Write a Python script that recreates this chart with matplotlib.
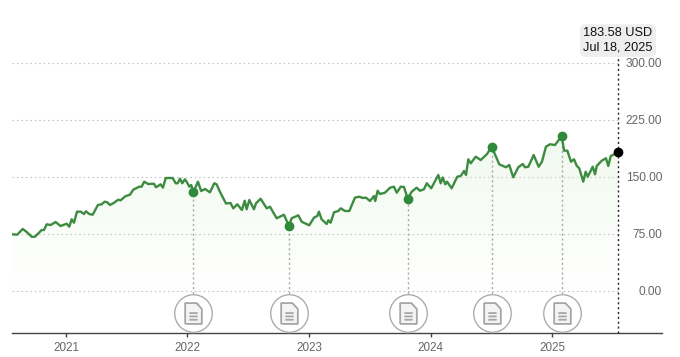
import numpy as np
import matplotlib
matplotlib.use('Agg')
import matplotlib.pyplot as plt
from matplotlib.path import Path

plt.rcParams['font.family'] = ['Liberation Sans', 'DejaVu Sans']

# price trace (fractional year, USD)
years = [2020.556, 2020.599, 2020.644, 2020.677, 2020.718, 2020.745, 2020.800, 2020.819, 2020.841, 2020.874,
         2020.915, 2020.956, 2021.006, 2021.027, 2021.047, 2021.066, 2021.091, 2021.123, 2021.148, 2021.165,
         2021.192, 2021.220, 2021.263, 2021.294, 2021.318, 2021.340, 2021.362, 2021.389, 2021.430, 2021.450,
         2021.488, 2021.527, 2021.554, 2021.603, 2021.623, 2021.644, 2021.677, 2021.724, 2021.741, 2021.779,
         2021.798, 2021.821, 2021.878, 2021.903, 2021.919, 2021.938, 2021.957, 2021.979, 2021.998, 2022.015,
         2022.031, 2022.048, 2022.086, 2022.113, 2022.144, 2022.185, 2022.221, 2022.240, 2022.267, 2022.317,
         2022.354, 2022.377, 2022.410, 2022.448, 2022.471, 2022.487, 2022.509, 2022.547, 2022.564, 2022.602,
         2022.652, 2022.679, 2022.734, 2022.761, 2022.794, 2022.835, 2022.857, 2022.912, 2022.940, 2023.002,
         2023.041, 2023.068, 2023.082, 2023.104, 2023.146, 2023.159, 2023.178, 2023.206, 2023.241, 2023.261,
         2023.296, 2023.332, 2023.378, 2023.414, 2023.442, 2023.469, 2023.502, 2023.535, 2023.545, 2023.565,
         2023.584, 2023.625, 2023.667, 2023.699, 2023.722, 2023.755, 2023.782, 2023.812, 2023.845, 2023.886,
         2023.913, 2023.946, 2023.969, 2024.006, 2024.064, 2024.084, 2024.100, 2024.122, 2024.136, 2024.174,
         2024.220, 2024.248, 2024.276, 2024.292, 2024.311, 2024.331, 2024.372, 2024.413, 2024.465, 2024.503,
         2024.566, 2024.621, 2024.648, 2024.681, 2024.722, 2024.759, 2024.778, 2024.805, 2024.849, 2024.890,
         2024.917, 2024.950, 2024.983, 2025.024, 2025.080, 2025.099, 2025.126, 2025.156, 2025.181, 2025.203,
         2025.224, 2025.257, 2025.277, 2025.294, 2025.335, 2025.354, 2025.368, 2025.409, 2025.444, 2025.463,
         2025.483, 2025.518, 2025.543]
prices = [75.1, 74.6, 82.1, 78.1, 71.9, 71.9, 80.7, 80.7, 88.2, 87.3,
          91.2, 86.0, 89.0, 85.1, 94.8, 90.3, 104.8, 104.8, 101.7, 105.3,
          101.7, 100.8, 113.6, 114.5, 117.9, 117.1, 113.6, 115.8, 120.5, 119.7,
          125.0, 127.1, 133.7, 137.6, 137.6, 144.2, 141.1, 141.5, 136.8, 140.7,
          136.3, 149.0, 149.0, 142.1, 142.1, 148.1, 142.1, 147.3, 142.8, 137.6,
          139.8, 130.2, 144.2, 131.9, 134.6, 130.2, 142.1, 140.7, 131.0, 115.5,
          116.2, 109.2, 114.5, 107.0, 119.2, 107.9, 120.1, 107.9, 115.8, 121.8,
          109.2, 111.3, 96.1, 98.2, 100.8, 86.0, 96.1, 100.0, 91.6, 86.9,
          96.9, 99.1, 104.8, 94.8, 88.6, 93.5, 90.3, 104.0, 105.7, 109.2,
          105.7, 105.7, 123.2, 124.5, 122.8, 123.2, 118.8, 125.4, 118.8, 132.3,
          128.0, 129.7, 136.3, 137.6, 129.7, 137.6, 137.2, 121.8, 131.0, 136.3,
          132.3, 134.2, 142.1, 135.5, 153.0, 142.1, 149.7, 140.7, 144.2, 135.5,
          150.7, 151.6, 158.2, 153.0, 173.6, 168.3, 177.0, 172.6, 180.5, 190.1,
          167.0, 163.1, 166.1, 149.9, 163.1, 167.4, 163.1, 163.8, 179.2, 163.8,
          170.4, 190.1, 193.3, 192.3, 204.2, 184.9, 184.9, 170.4, 173.6, 165.2,
          161.7, 144.2, 157.3, 150.7, 163.8, 153.9, 164.8, 171.7, 174.9, 164.8,
          177.9, 180.5, 183.58]

# filing markers
filing_years = [2022.048, 2022.835, 2023.812, 2024.503, 2025.080]
filing_prices = [130.2, 86.0, 121.8, 190.1, 204.2]

y_ticks = [0, 75, 150, 225, 300]
y_labels = ['0.00', '75.00', '150.00', '225.00', '300.00']
x_ticks = [2021, 2022, 2023, 2024, 2025]
x_labels = ['2021', '2022', '2023', '2024', '2025']

tooltip = '183.58 USD\nJul 18, 2025'

green = '#3d8b40'
grey_text = '#666666'

fig = plt.figure(figsize=(6.8, 3.57), dpi=100)
ax = fig.add_axes([12 / 680, 24 / 357, 650 / 680, 270 / 357])

x_min, x_max = 2020.556, 2025.905
y_min, y_max = -54.5, 300
icon_y = -28.2

# grid stops at the last date, labels sit to the right of it
ax.hlines(y_ticks, x_min, years[-1], color='#c4c4c4', linewidth=0.8, linestyle=(0, (1.5, 2.5)), zorder=1)
for v, label in zip(y_ticks, y_labels):
    ax.text(x_max, v - 1.3, label, ha='right', va='center', fontsize=8.6, color=grey_text)

# gradient under the line
grad = np.ones((256, 1, 4))
grad[:, 0, 0] = 0.90
grad[:, 0, 1] = 0.96
grad[:, 0, 2] = 0.88
grad[:, 0, 3] = np.linspace(0.55, 0.0, 256)
im = ax.imshow(grad, extent=[x_min, years[-1], 0, 205], aspect='auto', origin='upper', zorder=2)
poly = ax.fill_between(years, prices, 0, color='none')
im.set_clip_path(poly.get_paths()[0], transform=ax.transData)

# dotted drops from the filing points to the icons
ax.vlines(filing_years, icon_y, filing_prices, color='#a8a8a8', linewidth=1.0, linestyle=(0, (1.5, 2)), zorder=2)

ax.plot(years, prices, color=green, linewidth=1.7, solid_joinstyle='round', zorder=3)
ax.plot(filing_years, filing_prices, 'o', color='#2f8a3c', markersize=6, zorder=4)

# current value crosshair
ax.vlines(years[-1], y_min, 317, color='#222222', linewidth=1.0, linestyle=(0, (1.5, 2)), zorder=4, clip_on=False)
ax.plot(years[-1], prices[-1], 'o', color='black', markersize=6, zorder=5)
ax.text(years[-1], 329.5, tooltip, ha='center', va='center', fontsize=9.2, color='#111111', linespacing=1.25,
        bbox=dict(boxstyle='round,pad=0.25,rounding_size=0.4', facecolor='#eeeeee', edgecolor='none'), zorder=6)

# document icons
doc_body = Path([(-0.4, -0.5), (-0.4, 0.5), (0.14, 0.5), (0.4, 0.22), (0.4, -0.5), (-0.4, -0.5),
                 (-0.2, 0.02), (0.2, 0.02),
                 (-0.2, -0.14), (0.2, -0.14),
                 (-0.2, -0.3), (0.2, -0.3)],
                [Path.MOVETO, Path.LINETO, Path.LINETO, Path.LINETO, Path.LINETO, Path.LINETO,
                 Path.MOVETO, Path.LINETO,
                 Path.MOVETO, Path.LINETO,
                 Path.MOVETO, Path.LINETO])
doc_fold = Path([(0.1, 0.5), (0.1, 0.2), (0.38, 0.2), (0.1, 0.5)],
                [Path.MOVETO, Path.LINETO, Path.LINETO, Path.CLOSEPOLY])
for fy in filing_years:
    ax.plot(fy, icon_y, 'o', markersize=28.5, markerfacecolor='#eeeeee', markeredgecolor='none', alpha=0.6,
            zorder=6, clip_on=False)
    ax.plot(fy, icon_y, 'o', markersize=27, markerfacecolor='white', markeredgecolor='#a8a8a8',
            markeredgewidth=0.9, zorder=7, clip_on=False)
    ax.plot(fy, icon_y, marker=doc_body, markersize=15, markerfacecolor='#f4f4f4', markeredgecolor='#a6a6a6',
            markeredgewidth=1.3, zorder=8, clip_on=False)
    ax.plot(fy + 0.02, icon_y + 8.5, marker=doc_fold, markersize=6, markerfacecolor='#a6a6a6',
            markeredgecolor='none', zorder=9, clip_on=False)

ax.set_xlim(x_min, x_max)
ax.set_ylim(y_min, y_max)
ax.set_xticks(x_ticks)
ax.set_xticklabels(x_labels, fontsize=8.4, color=grey_text)
ax.set_yticks([])
ax.tick_params(axis='x', length=3.2, width=1.0, color='#444444', pad=3.5)
for side in ['top', 'left', 'right']:
    ax.spines[side].set_visible(False)
ax.spines['bottom'].set_color('#444444')
ax.spines['bottom'].set_linewidth(1.0)

fig.savefig('out.png', dpi=100)
